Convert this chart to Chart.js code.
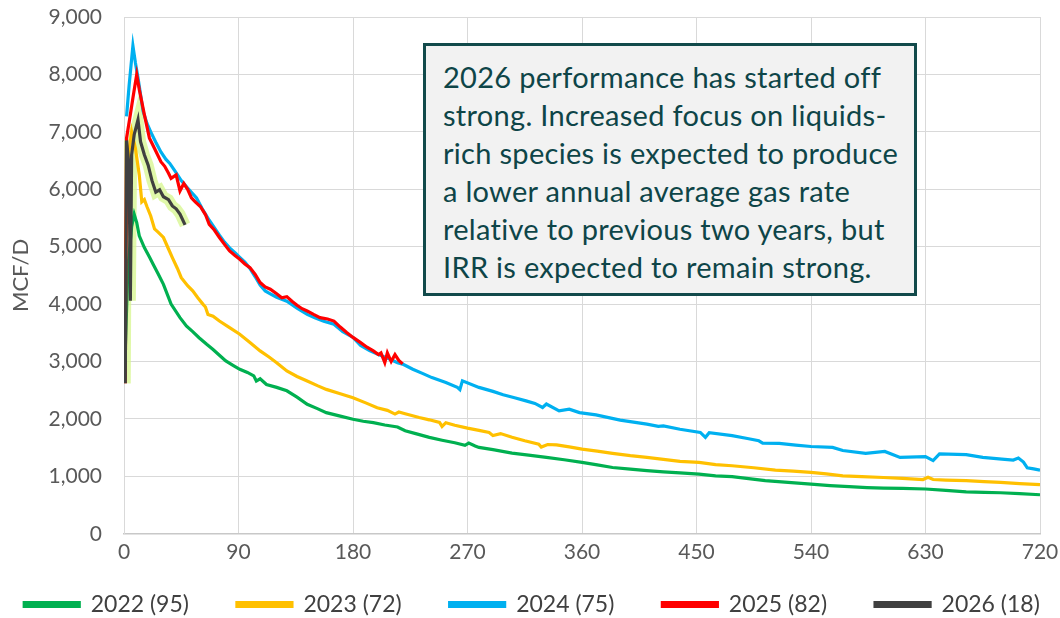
<!DOCTYPE html>
<html>
<head>
<meta charset="utf-8">
<script src="https://cdn.jsdelivr.net/npm/chart.js@4/dist/chart.umd.min.js"></script>
<style>
  body { margin: 0; background: #fff; }
  #wrap { position: relative; width: 1060px; height: 618px; }
  #note {
    position: absolute; left: 423px; top: 43px; width: 494px; height: 253px;
    box-sizing: border-box; border: 3px solid #124a4b; background: #f2f2f2;
    color: #0e4548; font-family: Lato, sans-serif; font-size: 29px; line-height: 38px;
    letter-spacing: 0.3px; padding: 12px 0 0 17px; white-space: pre;
  }
</style>
</head>
<body>
<div id="wrap">
  <canvas id="grafica" width="1060" height="618"></canvas>
  <div id="note">2026 performance has started off
strong. Increased focus on liquids-
rich species is expected to produce
a lower annual average gas rate
relative to previous two years, but
IRR is expected to remain strong.</div>
</div>
<script>
// dias en produccion y gas (MCF/D) por año
const xTicks = [0, 90, 180, 270, 360, 450, 540, 630, 720];
const yTicks = [0, 1000, 2000, 3000, 4000, 5000, 6000, 7000, 8000, 9000];
const series = ['2022 (95)', '2023 (72)', '2024 (75)', '2025 (82)', '2026 (18)'];

const days2022 = [1, 3, 6, 8, 10, 12, 16, 20, 23, 27, 31, 37, 44, 49, 54, 59, 65, 70, 75, 80, 86, 91, 97, 102, 104, 107, 112, 120, 128, 136, 144, 152, 159, 170, 180, 188, 196, 205, 215, 221, 230, 240, 250, 260, 268, 271, 276, 279, 290, 305, 318, 332, 346, 360, 372, 384, 398, 411, 424, 437, 452, 465, 478, 491, 504, 522, 540, 555, 570, 584, 597, 612, 630, 646, 662, 676, 689, 704, 720];
const gas2022 = [3200, 4600, 5350, 5565, 5420, 5190, 4985, 4820, 4690, 4520, 4345, 4000, 3765, 3620, 3520, 3415, 3300, 3210, 3110, 3010, 2930, 2865, 2810, 2750, 2660, 2700, 2600, 2550, 2490, 2380, 2255, 2180, 2110, 2050, 1995, 1960, 1935, 1895, 1860, 1795, 1740, 1680, 1630, 1585, 1540, 1580, 1530, 1505, 1465, 1405, 1370, 1330, 1290, 1245, 1200, 1155, 1125, 1100, 1080, 1060, 1040, 1010, 995, 960, 925, 895, 865, 840, 820, 805, 795, 790, 780, 755, 730, 722, 715, 700, 680];

const days2023 = [1, 3, 6, 9, 12, 14, 16, 18, 21, 24, 27, 31, 35, 38, 42, 45, 50, 54, 58, 62, 64, 66, 70, 75, 83, 91, 99, 107, 114, 120, 128, 136, 144, 152, 159, 170, 180, 190, 199, 207, 213, 216, 221, 232, 240, 248, 250, 253, 260, 270, 279, 287, 290, 296, 305, 315, 326, 328, 333, 340, 350, 360, 372, 384, 398, 411, 424, 437, 452, 465, 478, 495, 512, 526, 540, 552, 565, 580, 597, 612, 628, 632, 636, 646, 662, 676, 689, 704, 720];
const gas2023 = [4800, 6500, 7000, 6710, 6250, 5780, 5820, 5700, 5535, 5310, 5250, 5160, 4960, 4810, 4620, 4460, 4320, 4230, 4110, 4000, 3950, 3820, 3790, 3705, 3590, 3475, 3330, 3185, 3080, 2980, 2835, 2740, 2660, 2580, 2515, 2440, 2370, 2280, 2195, 2150, 2085, 2120, 2090, 2025, 1985, 1940, 1870, 1935, 1890, 1840, 1800, 1765, 1710, 1745, 1680, 1620, 1560, 1510, 1555, 1550, 1515, 1475, 1440, 1400, 1360, 1330, 1295, 1260, 1245, 1205, 1185, 1150, 1110, 1090, 1070, 1045, 1010, 995, 980, 965, 945, 985, 945, 935, 925, 910, 895, 875, 855];

const days2024 = [2, 4, 7, 9, 11, 13, 15, 18, 21, 25, 29, 33, 36, 40, 45, 50, 57, 62, 67, 71, 75, 79, 83, 87, 91, 95, 99, 103, 107, 111, 115, 120, 128, 136, 144, 150, 157, 165, 172, 180, 186, 193, 200, 207, 215, 219, 227, 235, 242, 253, 262, 264, 266, 279, 290, 298, 307, 316, 323, 329, 332, 342, 350, 358, 371, 390, 411, 420, 424, 437, 453, 457, 460, 478, 490, 499, 502, 515, 528, 540, 557, 565, 583, 598, 610, 630, 636, 641, 662, 675, 690, 699, 703, 707, 710, 715, 720];
const gas2024 = [7270, 7800, 8500, 8200, 7940, 7650, 7360, 7150, 7000, 6820, 6650, 6520, 6450, 6320, 6150, 6020, 5850, 5640, 5460, 5330, 5200, 5080, 4980, 4900, 4815, 4730, 4620, 4480, 4330, 4230, 4180, 4120, 4050, 3930, 3820, 3760, 3700, 3650, 3520, 3420, 3280, 3190, 3120, 3060, 2980, 2955, 2865, 2790, 2720, 2635, 2550, 2510, 2665, 2550, 2480, 2420, 2370, 2315, 2270, 2200, 2260, 2140, 2170, 2110, 2070, 1980, 1910, 1870, 1880, 1820, 1765, 1680, 1760, 1710, 1660, 1620, 1580, 1575, 1545, 1520, 1505, 1450, 1400, 1435, 1330, 1345, 1275, 1390, 1380, 1330, 1300, 1285, 1320, 1250, 1150, 1130, 1110];

const days2025 = [1, 2, 5, 7, 10, 12, 16, 20, 24, 29, 32, 35, 37, 41, 44, 47, 50, 53, 56, 60, 64, 67, 71, 75, 79, 83, 87, 91, 95, 99, 103, 107, 111, 115, 120, 124, 128, 132, 136, 140, 144, 149, 154, 160, 165, 170, 175, 180, 186, 191, 196, 200, 202, 205, 207, 210, 213, 216, 219];
const gas2025 = [2620, 6890, 7300, 7590, 8000, 7740, 7300, 6890, 6710, 6480, 6400, 6280, 6190, 6250, 5970, 6100, 6000, 5850, 5780, 5700, 5560, 5390, 5290, 5160, 5040, 4925, 4850, 4780, 4700, 4635, 4520, 4375, 4300, 4260, 4180, 4110, 4130, 4050, 3980, 3920, 3880, 3820, 3765, 3740, 3705, 3600, 3505, 3420, 3330, 3250, 3185, 3120, 3150, 2980, 3150, 3000, 3120, 3020, 2960];

const days2026 = [1, 2, 4, 5, 6, 8, 11, 13, 16, 19, 22, 25, 28, 31, 35, 38, 41, 44, 48];
const gas2026 = [2620, 6850, 6400, 4060, 6600, 6950, 7210, 6830, 6600, 6420, 6150, 5950, 5990, 5870, 5820, 5710, 5660, 5570, 5380];

const colores = ['#00b050', '#ffc000', '#00b0f0', '#ff0000', '#404040'];

function puntos(dias, gas) {
  return dias.map((d, i) => ({ x: d, y: gas[i] }));
}

const todos = [
  [days2022, gas2022], [days2023, gas2023], [days2024, gas2024],
  [days2025, gas2025], [days2026, gas2026]
];

const datasets = todos.map((s, i) => ({
  label: series[i],
  data: puntos(s[0], s[1]),
  borderColor: colores[i],
  backgroundColor: colores[i],
  borderWidth: 3.2,
  pointRadius: 0,
  tension: 0,
  order: 5 - i
}));

// brillo amarillo-verde alrededor de la serie 2026
datasets.push({
  label: '',
  data: puntos(days2026, gas2026),
  borderColor: 'rgba(214, 245, 140, 0.75)',
  borderWidth: 11,
  pointRadius: 0,
  tension: 0,
  order: 10
});

const ctx = document.getElementById('grafica').getContext('2d');
const grafica = new Chart(ctx, {
  type: 'line',
  data: { datasets: datasets },
  options: {
    responsive: false,
    animation: false,
    layout: { padding: { top: 17, right: 14, left: 18, bottom: -8 } },
    plugins: {
      tooltip: { enabled: false },
      legend: {
        position: 'bottom',
        title: { display: true, text: ' ', font: { size: 10, lineHeight: 1 }, padding: { top: 10, bottom: 0 } },
        labels: {
          boxWidth: 55,
          boxHeight: 4,
          padding: 2,
          color: '#404040',
          font: { family: 'Lato', size: 23 },
          filter: item => item.text !== '',
          sort: (a, b) => a.datasetIndex - b.datasetIndex,
          // espacio extra entre elementos de la leyenda
          generateLabels: chart => {
            const items = Chart.defaults.plugins.legend.labels.generateLabels(chart);
            return items.map(it => {
              if (it.text !== '' && it.datasetIndex < 4) it.text = it.text + '\u2003\u2003\u2002';
              return it;
            });
          }
        }
      }
    },
    scales: {
      x: {
        type: 'linear',
        min: 0,
        max: 720,
        afterBuildTicks: scale => { scale.ticks = xTicks.map(v => ({ value: v })); },
        afterFit: scale => { scale.paddingRight = 20; },
        ticks: { color: '#595959', font: { family: 'Lato', size: 21 }, padding: 6 },
        grid: { color: '#d9d9d9', drawTicks: false },
        border: { color: '#c8c8c8', width: 1.5 }
      },
      y: {
        min: 0,
        max: 9000,
        afterBuildTicks: scale => { scale.ticks = yTicks.map(v => ({ value: v })); },
        afterFit: scale => { scale.width = 106; },
        ticks: {
          color: '#595959',
          font: { family: 'Lato', size: 21 },
          padding: 3,
          callback: v => v.toLocaleString('en-US')
        },
        title: {
          display: true,
          text: 'MCF/D',
          color: '#595959',
          font: { family: 'Lato', size: 22 },
          padding: { top: -10, bottom: 0 }
        },
        grid: { color: '#d9d9d9', drawTicks: true, tickLength: 19, tickColor: 'rgba(0,0,0,0)' },
        border: { color: '#d9d9d9' }
      }
    }
  }
});
</script>
</body>
</html>
